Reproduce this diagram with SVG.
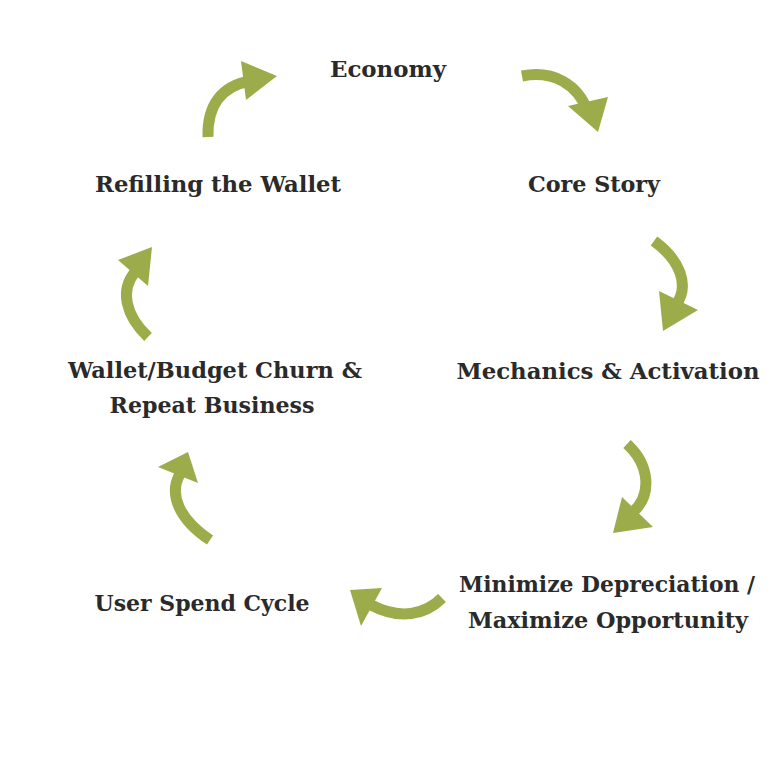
<svg xmlns="http://www.w3.org/2000/svg" width="781" height="780" viewBox="0 0 781 780">
<style>
.lbl{font-family:"DejaVu Serif","Liberation Serif",serif;font-weight:bold;font-size:22px;fill:#2a2a2a;text-anchor:middle}
.shaft{fill:none;stroke:#9cac4a;stroke-width:11}
.head{fill:#9cac4a}
</style>
<rect width="781" height="780" fill="#ffffff"/>
<g id="connectors">
<path class="shaft" d="M208,137 C207,105 222,86 250,81"/>
<polygon class="head" points="277,76 241,61 246,100"/>
<path class="shaft" d="M522,76 C553,70 578,84 588,112"/>
<polygon class="head" points="598,132 568,106 608,97"/>
<path class="shaft" d="M654,241 C680,260 690,285 676,305"/>
<polygon class="head" points="663,331 659,291 698,310"/>
<path class="shaft" d="M627,444 C650,465 652,495 633,512"/>
<polygon class="head" points="613,533 622,497 653,527"/>
<path class="shaft" d="M442,598 C425,615 400,620 371,605"/>
<polygon class="head" points="350,590 382,588 361,626"/>
<path class="shaft" d="M210,540 C180,520 168,495 180,474"/>
<polygon class="head" points="188,452 158,467 198,483"/>
<path class="shaft" d="M148,337 C125,315 120,290 135,272"/>
<polygon class="head" points="152,247 118,260 148,286"/>
</g>
<g id="economy"><text class="lbl" x="388" y="77" textLength="116" lengthAdjust="spacingAndGlyphs">Economy</text></g>
<g id="core-story"><text class="lbl" x="594" y="192" textLength="132" lengthAdjust="spacingAndGlyphs">Core Story</text></g>
<g id="mechanics"><text class="lbl" x="608" y="379" textLength="303" lengthAdjust="spacingAndGlyphs">Mechanics &amp; Activation</text></g>
<g id="minimize">
<text class="lbl" x="607" y="592" textLength="296" lengthAdjust="spacingAndGlyphs">Minimize Depreciation /</text>
<text class="lbl" x="608" y="628" textLength="280" lengthAdjust="spacingAndGlyphs">Maximize Opportunity</text>
</g>
<g id="user-spend"><text class="lbl" x="202" y="611" textLength="215" lengthAdjust="spacingAndGlyphs">User Spend Cycle</text></g>
<g id="wallet-churn">
<text class="lbl" x="215" y="378" textLength="294" lengthAdjust="spacingAndGlyphs">Wallet/Budget Churn &amp;</text>
<text class="lbl" x="212" y="413" textLength="205" lengthAdjust="spacingAndGlyphs">Repeat Business</text>
</g>
<g id="refilling"><text class="lbl" x="218" y="192" textLength="246" lengthAdjust="spacingAndGlyphs">Refilling the Wallet</text></g>
</svg>
